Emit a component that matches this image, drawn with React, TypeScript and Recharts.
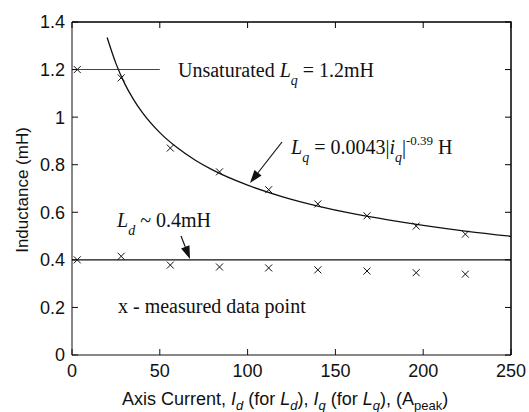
import { ComposedChart, Line, Scatter, XAxis, YAxis, ReferenceLine } from "recharts";

// values (current in A peak, inductance in mH)
const lqMeasured = [
  [3, 1.2], [28, 1.165], [56, 0.87], [84, 0.77], [112, 0.695],
  [140, 0.635], [168, 0.585], [196, 0.542], [224, 0.508],
];
const ldMeasured = [
  [3, 0.4], [28, 0.415], [56, 0.378], [84, 0.37], [112, 0.366],
  [140, 0.358], [168, 0.353], [196, 0.346], [224, 0.34],
];
const lqFit = [
  [20, 1.335], [25, 1.226], [30, 1.141], [35, 1.075], [40, 1.02], [50, 0.935],
  [60, 0.871], [70, 0.82], [80, 0.778], [100, 0.714], [120, 0.665], [140, 0.626],
  [160, 0.594], [180, 0.568], [200, 0.545], [225, 0.52], [250, 0.499],
];
const unsaturated = [[0, 1.2], [50, 1.2]];
const ldLevel = 0.4;

const xTicks = [0, 50, 100, 150, 200, 250];
const yTicks = [0, 0.2, 0.4, 0.6, 0.8, 1, 1.2, 1.4];
const xMax = 250;
const yMax = 1.4;

const toPts = (arr: number[][]) => arr.map(([x, y]) => ({ x, y }));

const W = 529;
const H = 412;
const MARGIN = { top: 22, right: 18, bottom: 27, left: 12 };
const Y_AXIS_W = 60;
const X_AXIS_H = 30;
// plot box, derived from the chart layout above
const BOX = {
  left: MARGIN.left + Y_AXIS_W,
  top: MARGIN.top,
  right: W - MARGIN.right,
  bottom: H - MARGIN.bottom - X_AXIS_H,
};

const INK = "#111";
const SANS = "'Liberation Sans', Arial, sans-serif";
const SERIF = "'Liberation Serif', 'Times New Roman', serif";

function Cross(props: any) {
  const { cx, cy } = props;
  const s = 3.5;
  return (
    <g stroke={INK} strokeWidth={1}>
      <line x1={cx - s} y1={cy - s} x2={cx + s} y2={cy + s} />
      <line x1={cx - s} y1={cy + s} x2={cx + s} y2={cy - s} />
    </g>
  );
}

function Arrow({ x1, y1, x2, y2 }: { x1: number; y1: number; x2: number; y2: number }) {
  const a = Math.atan2(y2 - y1, x2 - x1);
  const len = 13;
  const w = 4.5;
  const bx = x2 - len * Math.cos(a);
  const by = y2 - len * Math.sin(a);
  const px = -Math.sin(a) * w;
  const py = Math.cos(a) * w;
  return (
    <g>
      <line x1={x1} y1={y1} x2={bx} y2={by} stroke={INK} strokeWidth={1.2} />
      <polygon points={`${x2},${y2} ${bx + px},${by + py} ${bx - px},${by - py}`} fill={INK} />
    </g>
  );
}

// top and right edges of the box with inward ticks
function Frame() {
  const sx = (v: number) => BOX.left + (v / xMax) * (BOX.right - BOX.left);
  const sy = (v: number) => BOX.bottom - (v / yMax) * (BOX.bottom - BOX.top);
  return (
    <g stroke="#000" strokeWidth={1.5} fill="none">
      <path d={`M${BOX.left},${BOX.top} H${BOX.right} V${BOX.bottom}`} />
      {xTicks.map((t) => (
        <line key={"x" + t} x1={sx(t)} y1={BOX.top} x2={sx(t)} y2={BOX.top + 6} strokeWidth={1} />
      ))}
      {yTicks.map((t) => (
        <line key={"y" + t} x1={BOX.right} y1={sy(t)} x2={BOX.right - 6} y2={sy(t)} strokeWidth={1} />
      ))}
    </g>
  );
}

export default function App() {
  const tick = { fill: INK, fontSize: 18, fontFamily: SANS };
  return (
    <div style={{ position: "absolute", left: 0, top: 0, width: W, height: H, background: "#fff" }}>
      <ComposedChart width={W} height={H} margin={MARGIN}>
        <XAxis
          dataKey="x"
          type="number"
          domain={[0, xMax]}
          ticks={xTicks}
          height={X_AXIS_H}
          tick={tick}
          tickSize={-6}
          tickMargin={15}
          stroke={INK}
          allowDataOverflow
        />
        <YAxis
          type="number"
          domain={[0, yMax]}
          ticks={yTicks}
          width={Y_AXIS_W}
          tick={tick}
          tickSize={-6}
          tickMargin={13}
          stroke={INK}
          allowDataOverflow
        />
        <ReferenceLine y={ldLevel} stroke={INK} strokeWidth={1.3} />
        <Line
          data={toPts(unsaturated)}
          dataKey="y"
          stroke="#444"
          strokeWidth={1.1}
          dot={false}
          isAnimationActive={false}
        />
        <Line
          data={toPts(lqFit)}
          dataKey="y"
          type="monotone"
          stroke={INK}
          strokeWidth={1.3}
          dot={false}
          isAnimationActive={false}
        />
        <Scatter data={toPts(lqMeasured)} dataKey="y" shape={<Cross />} isAnimationActive={false} />
        <Scatter data={toPts(ldMeasured)} dataKey="y" shape={<Cross />} isAnimationActive={false} />
      </ComposedChart>

      <svg width={W} height={H} style={{ position: "absolute", left: 0, top: 0, pointerEvents: "none" }}>
        <Frame />
        <g fill={INK} fontFamily={SERIF} fontSize={20}>
          <text x={178} y={77}>
            Unsaturated <tspan fontStyle="italic">L</tspan>
            <tspan fontStyle="italic" fontSize={14} dy={8}>q</tspan>
            <tspan dy={-8}> = 1.2mH</tspan>
          </text>
          <text x={291} y={154}>
            <tspan fontStyle="italic">L</tspan>
            <tspan fontStyle="italic" fontSize={14} dy={8}>q</tspan>
            <tspan dy={-8}> = 0.0043|</tspan>
            <tspan fontStyle="italic">i</tspan>
            <tspan fontStyle="italic" fontSize={14} dy={8}>q</tspan>
            <tspan dy={-8}>|</tspan>
            <tspan fontSize={13} dy={-9}>-0.39</tspan>
            <tspan dy={9}> H</tspan>
          </text>
          <text x={117} y={227}>
            <tspan fontStyle="italic">L</tspan>
            <tspan fontStyle="italic" fontSize={14} dy={8}>d</tspan>
            <tspan dy={-8}> ~ 0.4mH</tspan>
          </text>
          <text x={118} y={313}>x - measured data point</text>
        </g>
        <Arrow x1={282} y1={142} x2={250} y2={183} />
        <Arrow x1={181} y1={236} x2={190} y2={259} />
        <text
          transform="translate(28,190) rotate(-90)"
          textAnchor="middle"
          fill={INK}
          fontFamily={SANS}
          fontSize={17}
        >
          Inductance (mH)
        </text>
        <text x={122} y={405} fill={INK} fontFamily={SANS} fontSize={18}>
          Axis Current, <tspan fontStyle="italic">I</tspan>
          <tspan fontStyle="italic" fontSize={13} dy={5}>d</tspan>
          <tspan dy={-5}> (for </tspan>
          <tspan fontStyle="italic">L</tspan>
          <tspan fontStyle="italic" fontSize={13} dy={5}>d</tspan>
          <tspan dy={-5}>), </tspan>
          <tspan fontStyle="italic">I</tspan>
          <tspan fontStyle="italic" fontSize={13} dy={5}>q</tspan>
          <tspan dy={-5}> (for </tspan>
          <tspan fontStyle="italic">L</tspan>
          <tspan fontStyle="italic" fontSize={13} dy={5}>q</tspan>
          <tspan dy={-5}>), (A</tspan>
          <tspan fontSize={13} dy={5}>peak</tspan>
          <tspan dy={-5}>)</tspan>
        </text>
      </svg>
    </div>
  );
}
